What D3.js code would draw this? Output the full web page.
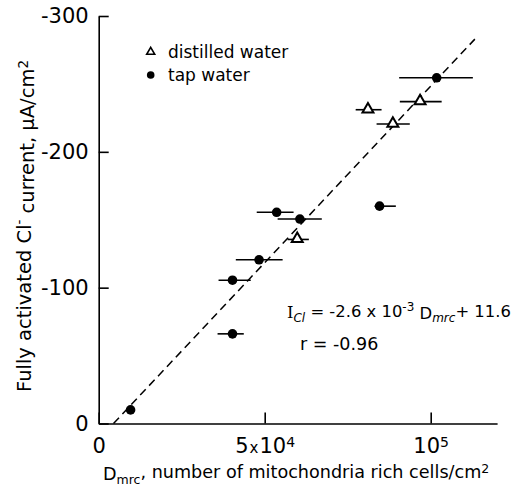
<!DOCTYPE html>
<html>
<head>
<meta charset="utf-8">
<script src="https://cdn.jsdelivr.net/npm/d3@7/dist/d3.min.js"></script>
<style>
  html, body { margin: 0; padding: 0; background: #fff; }
  svg { display: block; font-family: "DejaVu Sans", sans-serif; }
</style>
</head>
<body>
<script>
// Mitochondria-rich cell density vs. fully activated Cl- current

// tap water measurements: density (cells/cm2), current (uA/cm2), density error range
const tapX  = [9.6e3, 4.03e4, 4.03e4, 4.83e4, 5.36e4, 6.06e4, 8.46e4, 1.018e5];
const tapY  = [-10, -66, -105.5, -120.5, -155.5, -150.5, -160, -254.5];
const tapLo = [8.8e3, 3.58e4, 3.61e4, 4.13e4, 4.76e4, 5.39e4, 8.31e4, 9.05e4];
const tapHi = [1.04e4, 4.37e4, 4.58e4, 5.54e4, 5.87e4, 6.72e4, 8.95e4, 1.127e5];

// distilled water measurements
const distX  = [5.98e4, 8.11e4, 8.86e4, 9.68e4];
const distY  = [-135.5, -231, -220.5, -237];
const distLo = [5.69e4, 7.74e4, 8.37e4, 9.07e4];
const distHi = [6.33e4, 8.52e4, 9.37e4, 1.033e5];

// regression I_Cl = slope * D_mrc + intercept
const fitSlope = -2.6e-3;
const fitIntercept = 11.6;
const fitXEnd = 1.133e5;

// axis ticks (mantissa, "x", power-of-ten base, exponent)
const xTicks = [0, 5e4, 1e5];
const xTickLabels = [["0", "", "", ""], ["5", "x", "10", "4"], ["", "", "10", "5"]];
const yTicks = [0, -100, -200, -300];
const yTickLabels = ["0", "-100", "-200", "-300"];

const W = 511, H = 486;
const svg = d3.select("body").append("svg").attr("width", W).attr("height", H);

const x = d3.scaleLinear().domain([0, 1.2e5]).range([98.7, 497.1]);
const y = d3.scaleLinear().domain([0, -300]).range([423.5, 16]);

// axes with inward ticks
const gx = svg.append("g")
  .attr("transform", `translate(0,${y(0)})`)
  .call(d3.axisBottom(x).tickValues(xTicks).tickSizeInner(-11).tickSizeOuter(0)
    .tickPadding(15).tickFormat(() => ""));
gx.selectAll("text").each(function(d, i) {
  const t = d3.select(this).attr("font-size", 21).attr("fill", "#000")
    .attr("font-family", "DejaVu Sans, sans-serif");
  const [m, times, base, exp] = xTickLabels[i];
  if (m) t.append("tspan").text(m);
  if (times) t.append("tspan").attr("font-size", 15).attr("dx", 1).text(times);
  if (base) t.append("tspan").attr("dx", times ? 1 : 0).text(base);
  if (exp) t.append("tspan").attr("dy", "-0.45em").attr("font-size", 14).text(exp);
});

const gy = svg.append("g")
  .attr("transform", `translate(${x(0)},0)`)
  .call(d3.axisLeft(y).tickValues(yTicks).tickSizeInner(-10).tickSizeOuter(0)
    .tickPadding(10).tickFormat((d, i) => yTickLabels[i]));
gy.selectAll("text").attr("font-size", 21).attr("fill", "#000")
  .attr("font-family", "DejaVu Sans, sans-serif");

[gx, gy].forEach(g => {
  g.selectAll("path.domain").attr("stroke", "#000").attr("stroke-width", 1.6);
  g.selectAll(".tick line").attr("stroke", "#000").attr("stroke-width", 1.6);
});

// regression line
const fitX0 = -fitIntercept / fitSlope;
svg.append("line")
  .attr("x1", x(fitX0)).attr("y1", y(fitSlope * fitX0 + fitIntercept))
  .attr("x2", x(fitXEnd)).attr("y2", y(fitSlope * fitXEnd + fitIntercept))
  .attr("stroke", "#000").attr("stroke-width", 1.5)
  .attr("stroke-dasharray", "8,5");

// horizontal error bars
const tapData = tapX.map((v, i) => ({x: v, y: tapY[i], lo: tapLo[i], hi: tapHi[i]}));
const distData = distX.map((v, i) => ({x: v, y: distY[i], lo: distLo[i], hi: distHi[i]}));

svg.append("g").selectAll("line")
  .data(tapData.concat(distData))
  .join("line")
  .attr("x1", d => x(d.lo)).attr("x2", d => x(d.hi))
  .attr("y1", d => y(d.y)).attr("y2", d => y(d.y))
  .attr("stroke", "#000").attr("stroke-width", 1.6);

// tap water: filled circles
svg.append("g").selectAll("circle")
  .data(tapData)
  .join("circle")
  .attr("cx", d => x(d.x)).attr("cy", d => y(d.y)).attr("r", 4.8)
  .attr("fill", "#000");

// distilled water: open triangles
const tri = d3.symbol().type(d3.symbolTriangle).size(52);
svg.append("g").selectAll("path")
  .data(distData)
  .join("path")
  .attr("d", tri)
  .attr("transform", d => `translate(${x(d.x)},${y(d.y) - 0.5})`)
  .attr("fill", "#fff").attr("stroke", "#000").attr("stroke-width", 2);

// legend
const legend = svg.append("g");
legend.append("path").attr("d", d3.symbol().type(d3.symbolTriangle).size(28))
  .attr("transform", "translate(150.7,52)")
  .attr("fill", "#fff").attr("stroke", "#000").attr("stroke-width", 1.6);
legend.append("circle").attr("cx", 150.7).attr("cy", 75).attr("r", 3.8).attr("fill", "#000");
legend.append("text").attr("x", 168).attr("y", 58).attr("font-size", 17).text("distilled water");
legend.append("text").attr("x", 168).attr("y", 81).attr("font-size", 17).text("tap water");

// regression equation
const eq = svg.append("text").attr("x", 287).attr("y", 318).attr("font-size", 16.4);
eq.append("tspan").attr("font-family", "DejaVu Serif, serif").text("I");
eq.append("tspan").attr("dy", "0.3em").attr("font-size", 12).attr("font-style", "italic").text("Cl");
eq.append("tspan").attr("dy", "-0.3em").text(" = -2.6 x 10");
eq.append("tspan").attr("dy", "-0.45em").attr("font-size", 12).text("-3");
eq.append("tspan").attr("dy", "0.45em").text(" D");
eq.append("tspan").attr("dy", "0.3em").attr("font-size", 12).attr("font-style", "italic").text("mrc");
eq.append("tspan").attr("dy", "-0.3em").text("+ 11.6");

svg.append("text").attr("x", 300).attr("y", 350).attr("font-size", 17.5).text("r = -0.96");

// axis titles
const xt = svg.append("text").attr("x", 103).attr("y", 480).attr("font-size", 17.6);
xt.append("tspan").text("D");
xt.append("tspan").attr("dy", "0.3em").attr("font-size", 12.5).text("mrc");
xt.append("tspan").attr("dy", "-0.3em").text(", number of mitochondria rich cells/cm");
xt.append("tspan").attr("dy", "-0.45em").attr("font-size", 12.5).text("2");

const yt = svg.append("text").attr("transform", "translate(31,226) rotate(-90)")
  .attr("text-anchor", "middle").attr("font-size", 19.5);
yt.append("tspan").text("Fully activated Cl");
yt.append("tspan").attr("dy", "-0.5em").attr("font-size", 13.5).text("-");
yt.append("tspan").attr("dy", "0.5em").text(" current, \u03bcA/cm");
yt.append("tspan").attr("dy", "-0.45em").attr("font-size", 13.5).text("2");
</script>
</body>
</html>
